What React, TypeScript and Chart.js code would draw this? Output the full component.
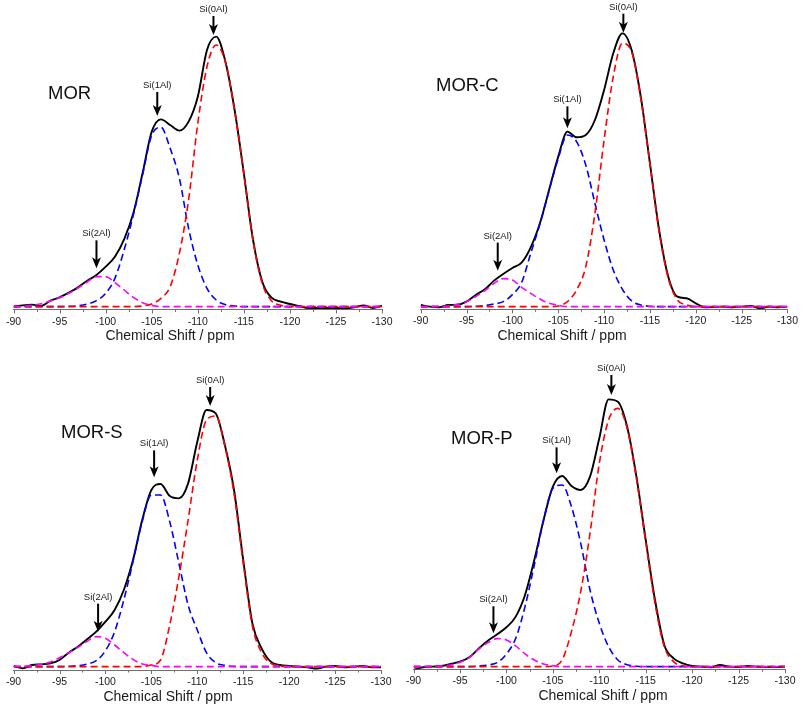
import React, { useEffect, useRef } from "react";
import { Chart, registerables } from "chart.js";

Chart.register(...registerables);

// Chemical shift positions (ppm), shared by every series
const ppm = [
  -90, -91, -92, -93, -94, -95, -96, -97, -98, -99, -100, -101, -102, -103, -104,
  -105, -106, -107, -108, -109, -110, -111, -112, -113, -114, -115, -116, -117,
  -118, -119, -120, -121, -122, -123, -124, -125, -126, -127, -128, -129, -130,
];

const sampleNames = ["MOR", "MOR-C", "MOR-S", "MOR-P"];
const peakLabels = ["Si(0Al)", "Si(1Al)", "Si(2Al)"];
const axisTitle = "Chemical Shift / ppm";

// ---- MOR ----
const morTotal = [0, 4, 6, 2, 18, 28, 42, 58, 78, 95, 120, 150, 202, 280, 400, 525, 562, 545, 528, 555, 630, 770, 810, 735, 590, 400, 200, 75, 27, 15, 8, 2, -4, -4, -4, -4, -5, -2, 4, -4, 3];
const morSi0Al = [0, 0, 0, 0, 0, 0, 0, 0, 0, 0, 0, 0, 0, 0, 2, 8, 25, 60, 160, 320, 550, 720, 785, 733, 588, 398, 198, 70, 18, 4, 0, 0, 0, 0, 0, 0, 0, 0, 0, 0, 0];
const morSi1Al = [0, 0, 0, 0, 0, 0, 1, 3, 8, 18, 40, 85, 170, 275, 395, 515, 538, 475, 385, 235, 125, 55, 20, 6, 2, 0, 0, 0, 0, 0, 0, 0, 0, 0, 0, 0, 0, 0, 0, 0, 0];
const morSi2Al = [0, 1, 4, 9, 17, 27, 40, 56, 74, 90, 90, 72, 50, 28, 12, 4, 0, 0, 0, 0, 0, 0, 0, 0, 0, 0, 0, 0, 0, 0, 0, 0, 0, 0, 0, 0, 0, 0, 0, 0, 0];
const morArrowPpm = [-111.7, -105.6, -99.0];
const morArrowTip = [815, 572, 115];

// ---- MOR-C ----
const morCTotal = [5, 0, -2, 5, 6, 15, 35, 52, 78, 98, 116, 132, 178, 250, 350, 450, 525, 508, 515, 560, 650, 760, 820, 770, 630, 430, 230, 90, 30, 25, 10, -2, -1, 0, -2, 0, 2, -5, 0, -2, 0];
const morCSi0Al = [0, 0, 0, 0, 0, 0, 0, 0, 0, 0, 0, 0, 0, 0, 0, 2, 15, 50, 120, 280, 500, 690, 790, 765, 625, 428, 225, 85, 20, 5, 0, 0, 0, 0, 0, 0, 0, 0, 0, 0, 0];
const morCSi1Al = [0, 0, 0, 0, 0, 0, 1, 3, 8, 15, 36, 72, 160, 248, 348, 445, 515, 495, 425, 310, 200, 110, 52, 17, 5, 1, 0, 0, 0, 0, 0, 0, 0, 0, 0, 0, 0, 0, 0, 0, 0];
const morCSi2Al = [0, 0, 1, 2, 7, 15, 30, 48, 70, 84, 80, 58, 40, 23, 10, 4, 0, 0, 0, 0, 0, 0, 0, 0, 0, 0, 0, 0, 0, 0, 0, 0, 0, 0, 0, 0, 0, 0, 0, 0, 0];
const morCArrowPpm = [-112.1, -106.0, -98.4];
const morCArrowTip = [822, 535, 108];

// ---- MOR-S ----
const morSTotal = [2, -5, 5, 7, 10, 20, 42, 60, 82, 105, 135, 170, 230, 320, 440, 530, 548, 512, 505, 550, 675, 770, 760, 665, 530, 320, 130, 55, 15, 5, 2, 0, -2, -6, 0, 2, -2, 0, 2, -2, -2];
const morSSi0Al = [0, 0, 0, 0, 0, 0, 0, 0, 0, 0, 0, 0, 0, 0, 0, 5, 20, 125, 270, 440, 620, 740, 752, 662, 520, 312, 122, 42, 10, 2, 0, 0, 0, 0, 0, 0, 0, 0, 0, 0, 0];
const morSSi1Al = [0, 0, 0, 0, 0, 0, 1, 3, 8, 18, 48, 105, 200, 315, 435, 515, 515, 435, 310, 185, 110, 42, 12, 4, 1, 0, 0, 0, 0, 0, 0, 0, 0, 0, 0, 0, 0, 0, 0, 0, 0];
const morSSi2Al = [0, 1, 3, 7, 14, 27, 42, 58, 76, 90, 85, 65, 42, 22, 8, 4, 0, 0, 0, 0, 0, 0, 0, 0, 0, 0, 0, 0, 0, 0, 0, 0, 0, 0, 0, 0, 0, 0, 0, 0, 0];
const morSArrowPpm = [-111.4, -105.3, -99.2];
const morSArrowTip = [782, 568, 105];

// ---- MOR-P ----
const morPTotal = [-10, -2, 0, 2, 8, 15, 28, 54, 78, 97, 118, 150, 215, 320, 440, 540, 572, 542, 530, 570, 685, 802, 795, 720, 570, 380, 200, 65, 25, 10, 2, 0, -2, 5, 0, -1, 2, 0, -1, -1, 0];
const morPSi0Al = [0, 0, 0, 0, 0, 0, 0, 0, 0, 0, 0, 0, 0, 0, 0, 2, 20, 105, 225, 400, 610, 740, 775, 715, 565, 375, 190, 60, 15, 2, 0, 0, 0, 0, 0, 0, 0, 0, 0, 0, 0];
const morPSi1Al = [0, 0, 0, 0, 0, 0, 0, 2, 5, 12, 38, 85, 180, 305, 440, 535, 545, 480, 370, 230, 130, 60, 20, 6, 1, 0, 0, 0, 0, 0, 0, 0, 0, 0, 0, 0, 0, 0, 0, 0, 0];
const morPSi2Al = [0, 0, 0, 2, 5, 13, 27, 52, 72, 84, 80, 62, 38, 20, 8, 3, 0, 0, 0, 0, 0, 0, 0, 0, 0, 0, 0, 0, 0, 0, 0, 0, 0, 0, 0, 0, 0, 0, 0, 0, 0];
const morPArrowPpm = [-111.3, -105.4, -98.6];
const morPArrowTip = [815, 580, 100];

const FONT = '"Liberation Sans", Arial, Helvetica, sans-serif';
const AXIS_COLOR = "#707070";
const TEXT_COLOR = "#1a1a1a";

type PanelCfg = {
  name: string;
  total: number[];
  si0: number[];
  si1: number[];
  si2: number[];
  arrowPpm: number[];
  arrowTip: number[];
  arrowLen: number[];
  x: number;
  y: number;
  w: number;
  h: number;
  left: number;
  right: number;
  bottom: number;
  yMin: number;
  nameX: number;
  nameY: number;
  titleX: number;
};

const panels: PanelCfg[] = [
  {
    name: sampleNames[0], total: morTotal, si0: morSi0Al, si1: morSi1Al, si2: morSi2Al,
    arrowPpm: morArrowPpm, arrowTip: morArrowTip, arrowLen: [19, 24, 28],
    x: 0, y: 0, w: 400, h: 350, left: 10.5, right: 382, bottom: 309.5, yMin: -8.5,
    nameX: 48, nameY: 94, titleX: 170,
  },
  {
    name: sampleNames[1], total: morCTotal, si0: morCSi0Al, si1: morCSi1Al, si2: morCSi2Al,
    arrowPpm: morCArrowPpm, arrowTip: morCArrowTip, arrowLen: [19, 22, 28],
    x: 400, y: 0, w: 404, h: 350, left: 20.7, right: 392.3, bottom: 309.3, yMin: -8,
    nameX: 36, nameY: 86, titleX: 162,
  },
  {
    name: sampleNames[2], total: morSTotal, si0: morSSi0Al, si1: morSSi1Al, si2: morSSi2Al,
    arrowPpm: morSArrowPpm, arrowTip: morSArrowTip, arrowLen: [19, 27, 28],
    x: 0, y: 360, w: 400, h: 349, left: 9.3, right: 381, bottom: 310, yMin: -10,
    nameX: 61, nameY: 73, titleX: 168,
  },
  {
    name: sampleNames[3], total: morPTotal, si0: morPSi0Al, si1: morPSi1Al, si2: morPSi2Al,
    arrowPpm: morPArrowPpm, arrowTip: morPArrowTip, arrowLen: [20, 26, 27],
    x: 400, y: 360, w: 404, h: 349, left: 12.7, right: 385, bottom: 309.3, yMin: -8,
    nameX: 51, nameY: 79, titleX: 203,
  },
];

function series(values: number[], color: string, dashed: boolean) {
  return {
    data: ppm.map((p, i) => ({ x: p, y: values[i] })),
    borderColor: color,
    backgroundColor: color,
    borderWidth: dashed ? 1.6 : 1.9,
    borderDash: dashed ? [7, 4] : [],
    pointRadius: 0,
    fill: false,
    cubicInterpolationMode: "monotone" as const,
  };
}

function decorPlugin(cfg: PanelCfg) {
  return {
    id: "decor",
    afterDatasetsDraw(chart: any) {
      const ctx: CanvasRenderingContext2D = chart.ctx;
      const xs = chart.scales.x;
      const ys = chart.scales.y;
      const axisY = chart.chartArea.bottom;
      ctx.save();
      // tick marks (major every 5 ppm, minor in between)
      ctx.strokeStyle = AXIS_COLOR;
      ctx.lineWidth = 1;
      for (const t of xs.ticks) {
        const px = Math.round(xs.getPixelForValue(t.value)) + 0.5;
        const major = Math.abs(t.value % 5) < 1e-6;
        ctx.beginPath();
        ctx.moveTo(px, axisY);
        ctx.lineTo(px, axisY + (major ? 4 : 2.5));
        ctx.stroke();
      }
      // peak arrows and labels
      for (let i = 0; i < cfg.arrowPpm.length; i++) {
        const x = xs.getPixelForValue(cfg.arrowPpm[i]);
        const tip = ys.getPixelForValue(cfg.arrowTip[i]);
        const top = tip - cfg.arrowLen[i];
        ctx.strokeStyle = "#000";
        ctx.lineWidth = 2;
        ctx.beginPath();
        ctx.moveTo(x, top);
        ctx.lineTo(x, tip - 6);
        ctx.stroke();
        ctx.fillStyle = "#000";
        ctx.beginPath();
        ctx.moveTo(x, tip);
        ctx.lineTo(x - 4.5, tip - 11);
        ctx.lineTo(x, tip - 8);
        ctx.lineTo(x + 4.5, tip - 11);
        ctx.closePath();
        ctx.fill();
        ctx.fillStyle = TEXT_COLOR;
        ctx.font = `9.5px ${FONT}`;
        ctx.textAlign = "center";
        ctx.textBaseline = "alphabetic";
        ctx.fillText(peakLabels[i], x, top - 4);
      }
      // sample name
      ctx.fillStyle = "#111";
      ctx.font = `18.5px ${FONT}`;
      ctx.textAlign = "left";
      ctx.textBaseline = "middle";
      ctx.fillText(cfg.name, cfg.nameX, cfg.nameY);
      // axis title
      ctx.fillStyle = TEXT_COLOR;
      ctx.font = `14px ${FONT}`;
      ctx.textAlign = "center";
      ctx.textBaseline = "middle";
      ctx.fillText(axisTitle, cfg.titleX, axisY + 27);
      ctx.restore();
    },
  };
}

function Panel({ cfg }: { cfg: PanelCfg }) {
  const ref = useRef<HTMLCanvasElement>(null);
  useEffect(() => {
    const canvas = ref.current;
    if (!canvas) return;
    const chart = new Chart(canvas, {
      type: "line",
      data: {
        datasets: [
          series(cfg.si2, "#ff00ff", true),
          series(cfg.si0, "#ff0000", true),
          series(cfg.si1, "#0000ff", true),
          series(cfg.total, "#000000", false),
        ] as any,
      },
      options: {
        animation: false,
        responsive: false,
        maintainAspectRatio: false,
        events: [],
        layout: { padding: { left: cfg.left, right: cfg.w - cfg.right, top: 0, bottom: 0 } },
        plugins: { legend: { display: false }, tooltip: { enabled: false } },
        scales: {
          x: {
            type: "linear",
            min: -130,
            max: -90,
            reverse: true,
            grid: { display: false, drawTicks: false, tickLength: 0 },
            border: { display: true, color: AXIS_COLOR, width: 1 },
            ticks: {
              stepSize: 2.5,
              maxTicksLimit: 100,
              autoSkip: false,
              maxRotation: 0,
              padding: 6,
              color: TEXT_COLOR,
              font: { family: FONT, size: 10.5 },
              callback: (v: any) => (Math.abs(Number(v) % 5) < 1e-6 ? String(v) : ""),
            },
            afterFit: (s: any) => {
              s.height = cfg.h - cfg.bottom;
            },
          },
          y: { display: false, min: cfg.yMin, max: 920 },
        },
      } as any,
      plugins: [decorPlugin(cfg)],
    });
    return () => chart.destroy();
  }, [cfg]);
  return (
    <canvas
      ref={ref}
      width={cfg.w}
      height={cfg.h}
      style={{ position: "absolute", left: cfg.x, top: cfg.y, width: cfg.w, height: cfg.h }}
    />
  );
}

export default function App() {
  return (
    <div style={{ position: "absolute", left: 0, top: 0, width: 804, height: 709, background: "#fff" }}>
      {panels.map((p) => (
        <Panel key={p.name} cfg={p} />
      ))}
    </div>
  );
}
